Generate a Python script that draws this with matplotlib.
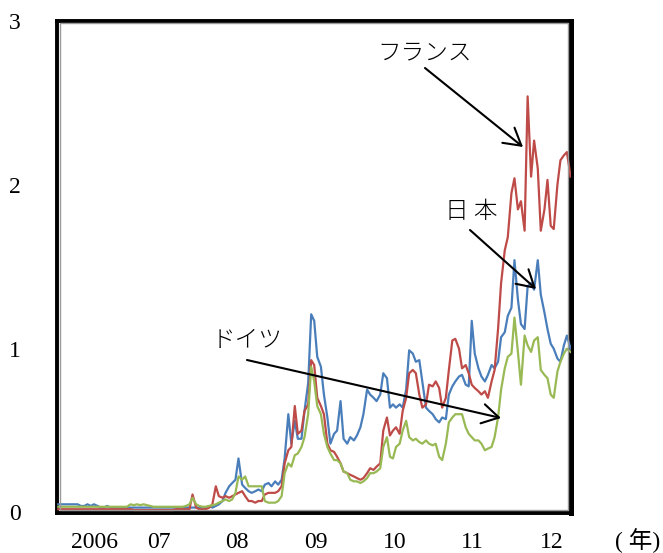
import matplotlib
matplotlib.use("Agg")
import matplotlib.pyplot as plt
import pandas as pd
from matplotlib.patches import Rectangle

# Semi-monthly observations, Dec 2005 - Jun 2012 (%)
dates = pd.date_range("2005-12-01", periods=157, freq="SMS")

japan = [
    0.05, 0.05,
    # 2006
    0.05, 0.05, 0.05, 0.05, 0.05, 0.04, 0.04, 0.05, 0.04, 0.05, 0.04, 0.03,
    0.03, 0.04, 0.03, 0.03, 0.03, 0.03, 0.03, 0.03, 0.03, 0.03, 0.03, 0.03,
    # 2007
    0.03, 0.03, 0.03, 0.03, 0.03, 0.03, 0.03, 0.03, 0.03, 0.03, 0.03, 0.03,
    0.03, 0.03, 0.03, 0.03, 0.03, 0.03, 0.03, 0.03, 0.04, 0.03, 0.04, 0.05,
    # 2008
    0.07, 0.12, 0.16, 0.18, 0.20, 0.33, 0.17, 0.15, 0.13, 0.12, 0.13, 0.14,
    0.13, 0.17, 0.18, 0.16, 0.19, 0.17, 0.20, 0.33, 0.60, 0.42, 0.56, 0.45,
    # 2009
    0.45, 0.62, 0.79, 1.21, 1.17, 0.95, 0.89, 0.72, 0.58, 0.42, 0.48, 0.50,
    0.68, 0.45, 0.42, 0.46, 0.44, 0.47, 0.52, 0.60, 0.75, 0.72, 0.70, 0.68,
    # 2010
    0.72, 0.85, 0.82, 0.64, 0.66, 0.64, 0.66, 0.64, 0.75, 0.99, 0.97, 0.92,
    0.93, 0.80, 0.64, 0.62, 0.60, 0.57, 0.55, 0.58, 0.57, 0.72, 0.77, 0.80,
    # 2011
    0.83, 0.84, 0.78, 0.77, 1.17, 0.97, 0.88, 0.83, 0.80, 0.84, 0.90, 0.88,
    0.92, 1.07, 1.10, 1.20, 1.25, 1.54, 1.30, 1.15, 1.12, 1.38, 1.40, 1.36,
    # 2012
    1.54, 1.33, 1.22, 1.12, 1.03, 1.00, 0.94, 0.92, 1.02, 1.08, 1.00,
]

france = [
    0.02, 0.02,
    # 2006
    0.02, 0.02, 0.02, 0.02, 0.02, 0.02, 0.02, 0.02, 0.02, 0.02, 0.02, 0.02,
    0.02, 0.02, 0.02, 0.02, 0.02, 0.02, 0.02, 0.02, 0.02, 0.015, 0.015, 0.015,
    # 2007
    0.015, 0.015, 0.015, 0.015, 0.015, 0.015, 0.015, 0.015, 0.015, 0.015, 0.02, 0.02,
    0.02, 0.02, 0.02, 0.11, 0.03, 0.02, 0.02, 0.02, 0.03, 0.05, 0.16, 0.10,
    # 2008
    0.09, 0.10, 0.09, 0.10, 0.11, 0.12, 0.13, 0.10, 0.07, 0.07, 0.06, 0.07,
    0.07, 0.11, 0.12, 0.12, 0.12, 0.13, 0.16, 0.30, 0.38, 0.40, 0.65, 0.48,
    # 2009
    0.50, 0.62, 0.66, 0.93, 0.90, 0.70, 0.65, 0.60, 0.42, 0.38, 0.37, 0.34,
    0.30, 0.25, 0.24, 0.23, 0.22, 0.21, 0.20, 0.21, 0.24, 0.27, 0.26, 0.28,
    # 2010
    0.30, 0.50, 0.58, 0.47, 0.50, 0.52, 0.48, 0.62, 0.70, 0.85, 0.87, 0.85,
    0.72, 0.64, 0.66, 0.78, 0.77, 0.80, 0.76, 0.64, 0.70, 0.87, 1.05, 1.06,
    # 2011
    1.00, 0.88, 0.90, 0.85, 0.78, 0.76, 0.74, 0.72, 0.74, 0.70, 0.80, 0.87,
    1.12, 1.40, 1.60, 1.68, 1.95, 2.04, 1.85, 1.90, 1.72, 2.54, 2.05, 2.27,
    # 2012
    2.10, 1.72, 1.85, 2.03, 1.75, 1.73, 2.00, 2.15, 2.18, 2.20, 2.05,
]

germany = [
    0.035, 0.035,
    # 2006
    0.035, 0.035, 0.035, 0.035, 0.035, 0.035, 0.035, 0.035, 0.035, 0.035, 0.035, 0.035,
    0.035, 0.035, 0.035, 0.035, 0.035, 0.035, 0.035, 0.035, 0.05, 0.045, 0.05, 0.045,
    # 2007
    0.05, 0.045, 0.04, 0.035, 0.035, 0.035, 0.035, 0.035, 0.035, 0.035, 0.035, 0.035,
    0.035, 0.04, 0.05, 0.09, 0.05, 0.04, 0.035, 0.035, 0.04, 0.045, 0.05, 0.06,
    # 2008
    0.07, 0.08, 0.07, 0.08, 0.12, 0.22, 0.20, 0.22, 0.16, 0.16, 0.16, 0.16,
    0.16, 0.07, 0.06, 0.06, 0.06, 0.07, 0.10, 0.24, 0.30, 0.28, 0.35, 0.36,
    # 2009
    0.40, 0.46, 0.60, 0.89, 0.80, 0.65, 0.60, 0.48, 0.40, 0.36, 0.32, 0.32,
    0.30, 0.25, 0.24, 0.20, 0.19, 0.19, 0.18, 0.19, 0.21, 0.24, 0.24, 0.25,
    # 2010
    0.27, 0.40, 0.46, 0.34, 0.33, 0.40, 0.42, 0.50, 0.56, 0.46, 0.44, 0.45,
    0.43, 0.42, 0.44, 0.42, 0.41, 0.42, 0.34, 0.32, 0.42, 0.55, 0.58, 0.60,
    # 2011
    0.60, 0.60, 0.52, 0.48, 0.46, 0.44, 0.44, 0.42, 0.38, 0.39, 0.40, 0.46,
    0.58, 0.75, 0.88, 0.95, 0.97, 1.19, 0.98, 0.78, 1.08, 1.02, 0.98, 1.05,
    # 2012
    1.07, 0.87, 0.84, 0.82, 0.72, 0.70, 0.86, 0.92, 0.97, 1.00, 0.98,
]

year_labels = ["2006", "07", "08", "09", "10", "11", "12"]
year_label_dates = ["2006-05-20", "2007-03-12", "2008-03-08", "2009-03-08",
                    "2010-03-10", "2011-03-04", "2012-03-04"]
y_ticks = [0, 1, 2, 3]

serif = ["Liberation Serif", "DejaVu Serif"]
jp = ["Noto Sans CJK JP", "DejaVu Sans"]
serif_jp = ["Liberation Serif", "Noto Sans CJK JP", "DejaVu Sans"]

fig = plt.figure(figsize=(6.63, 5.53), dpi=100)
ax = fig.add_axes([57 / 663, 1 - 512.5 / 553, (571 - 57) / 663, (512.5 - 21) / 553])

ax.plot(dates, japan, color="#4A7EBB", lw=1.6, zorder=3)
ax.plot(dates, france, color="#BE4B48", lw=1.6, zorder=3)
ax.plot(dates, germany, color="#98B954", lw=1.6, zorder=3)

ax.set_ylim(0, 3)
ax.set_xlim(pd.Timestamp("2005-11-25"), pd.Timestamp("2012-06-03"))
ax.set_yticks(y_ticks)
ax.set_yticklabels([str(v) for v in y_ticks], fontfamily=serif, fontsize=17)
ax.set_xticks(pd.to_datetime(year_label_dates))
ax.set_xticklabels(year_labels, fontfamily=serif, fontsize=17)
ax.tick_params(axis="y", length=0, pad=26)
ax.tick_params(axis="x", length=0, pad=14)

for s in ax.spines.values():
    s.set_linewidth(2.8)
    s.set_color("black")
ax.spines["right"].set_linewidth(3.6)
ax.add_patch(Rectangle((0.005, 0.005), 0.99, 0.99, transform=ax.transAxes,
                       fill=False, edgecolor="#9a9a9a", lw=1.0, zorder=4))

fig.text(615 / 663, 1 - 541 / 553, "( 年)", fontfamily=serif_jp, fontsize=17,
         ha="left", va="center")

arrow = dict(arrowstyle="->,head_length=0.6,head_width=0.35", lw=1.5,
             color="black", mutation_scale=20, shrinkA=0, shrinkB=0)


def px(xp, yp):
    return fig.transFigure.inverted().transform((xp, 553 - yp))


ax.annotate("", xy=px(523, 147), xycoords="figure fraction",
            xytext=px(425, 68), textcoords="figure fraction", arrowprops=arrow)
ax.annotate("", xy=px(536, 289), xycoords="figure fraction",
            xytext=px(470, 230), textcoords="figure fraction", arrowprops=arrow)
ax.annotate("", xy=px(501, 418), xycoords="figure fraction",
            xytext=px(247, 360), textcoords="figure fraction", arrowprops=arrow)

label_kw = dict(fontfamily=jp, fontsize=17, fontweight="light", ha="center", va="center")
fig.text(*px(425, 53), "フランス", **label_kw)
fig.text(*px(471, 212), "日 本", **label_kw)
fig.text(*px(247, 340), "ドイツ", **label_kw)

fig.savefig("out.png", dpi=100)
